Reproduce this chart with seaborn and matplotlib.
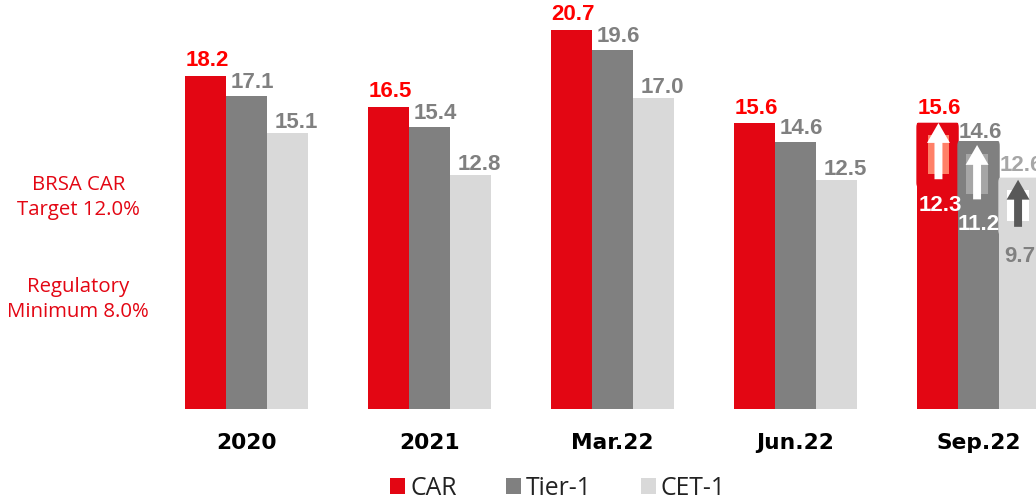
import matplotlib
matplotlib.use("Agg")
import matplotlib.pyplot as plt
from matplotlib.patches import FancyBboxPatch, Patch, Rectangle
import pandas as pd
import seaborn as sns

periods = ["2020", "2021", "Mar.22", "Jun.22", "Sep.22"]
car = [18.2, 16.5, 20.7, 15.6, 15.6]
tier1 = [17.1, 15.4, 19.6, 14.6, 14.6]
cet1 = [15.1, 12.8, 17.0, 12.5, 12.6]
series_names = ["CAR", "Tier-1", "CET-1"]
series_colors = ["#E30613", "#808080", "#D9D9D9"]
label_colors = ["#FF0000", "#808080", "#808080"]

# Sep.22 ratios before forbearance, shown inside the last group
sep_base = [12.3, 11.2, 9.7]
sep_base_colors = ["#FFFFFF", "#FFFFFF", "#808080"]

notes = ["BRSA CAR\nTarget 12.0%", "Regulatory\nMinimum 8.0%"]

frame = pd.DataFrame({
    "period": periods * 3,
    "series": sum([[n] * len(periods) for n in series_names], []),
    "ratio": car + tier1 + cet1,
})

sns.set_style("white")
fig = plt.figure(figsize=(10.36, 4.99), dpi=100)
ax = fig.add_axes([0, 90 / 499, 1, 409 / 499])
sns.barplot(data=frame, x="period", y="ratio", hue="series", order=periods,
            hue_order=series_names, palette=series_colors, width=0.672, gap=0,
            saturation=1, legend=False, linewidth=0, ax=ax)

ax.set_xlim(-1.347, 4.314)
ax.set_ylim(0, 22.34)
ax.set_xlabel("")
ax.set_ylabel("")
ax.set_yticks([])
ax.tick_params(axis="x", length=0, pad=17.5)
for tick in ax.get_xticklabels():
    tick.set_fontsize(15.7)
    tick.set_fontweight("bold")
    tick.set_color("black")
sns.despine(ax=ax, left=True, bottom=True, top=True, right=True)

# Value labels above the bars; the last group sits tighter around its caps
label_shift = [(1.3, 3.5), (4.3, 2), (6.5, 0)]
sep_shift = [(1.3, 3.5), (1.5, -1), (1.5, 2)]
sep_label_colors = ["#FF0000", "#808080", "#A6A6A6"]
for s, (container, color) in enumerate(zip(ax.containers, label_colors)):
    for j, bar in enumerate(container):
        last = j == len(container) - 1
        ax.annotate(f"{bar.get_height():.1f}",
                    (bar.get_x() + bar.get_width() / 2, bar.get_height()),
                    xytext=sep_shift[s] if last else label_shift[s],
                    textcoords="offset points", ha="center", va="bottom",
                    fontsize=16, fontweight="bold",
                    color=sep_label_colors[s] if last else color,
                    family="Liberation Sans", annotation_clip=False)

# Sep.22 overlays: rounded caps, inner panels and arrows
bar_w = 0.672 / 3
inner_colors = ["#FF8068", "#A6A6A6", "#FFFFFF"]
arrow_colors = ["#FFFFFF", "#FFFFFF", "#595959"]
tops = [car[4], tier1[4], cet1[4]]
base_drop = [-8, -7, -10.5]
mid_shift = [0.005, -0.008, -0.008]
tip_drop = [0.0, 0.2, 0.1]
for i in range(3):
    bar = ax.containers[i][4]
    left = bar.get_x()
    mid = left + bar_w / 2 + mid_shift[i]
    base = sep_base[i]
    top = tops[i]
    ax.add_patch(FancyBboxPatch((left, base - 0.15), bar_w, top - base + 0.15,
                                boxstyle="round,pad=0,rounding_size=0.006", mutation_aspect=40,
                                fc=series_colors[i], ec=series_colors[i], lw=1.0, zorder=3))
    ax.add_patch(Rectangle((mid - bar_w * 0.26, base + 0.55), bar_w * 0.52, top - base - 1.2,
                           fc=inner_colors[i], ec="none", zorder=4))
    ax.annotate("", xy=(mid, top + 0.02 - tip_drop[i]), xytext=(mid, base + 0.25), zorder=5,
                arrowprops=dict(arrowstyle="simple,head_length=0.65,head_width=0.75,tail_width=0.26",
                                fc=arrow_colors[i], ec="none", shrinkA=0, shrinkB=0, mutation_scale=22))
    ax.annotate(f"{base:.1f}", (mid, base), xytext=(1.5, base_drop[i]), textcoords="offset points",
                ha="center", va="top", fontsize=16, fontweight="bold",
                color=sep_base_colors[i], family="Liberation Sans",
                annotation_clip=False, zorder=6)

# Regulatory thresholds on the left
ax.text(0.076, 0.5165, notes[0], transform=ax.transAxes, ha="center", va="center",
        color="#E30613", fontsize=14.7, family="Open Sans", linespacing=1.36)
ax.text(0.0755, 0.267, notes[1], transform=ax.transAxes, ha="center", va="center",
        color="#E30613", fontsize=14.7, family="Open Sans", linespacing=1.36)

handles = [Patch(fc=c, ec="none") for c in series_colors]
fig.legend(handles, series_names, ncol=3, loc="lower left", bbox_to_anchor=(368 / 1036, -0.048),
           frameon=False, handlelength=0.6, handleheight=0.6,
           handletextpad=0.2, columnspacing=2.0, prop={"family": "Open Sans", "size": 17.8},
           labelcolor="#222222")

fig.savefig("out.png", dpi=100)
